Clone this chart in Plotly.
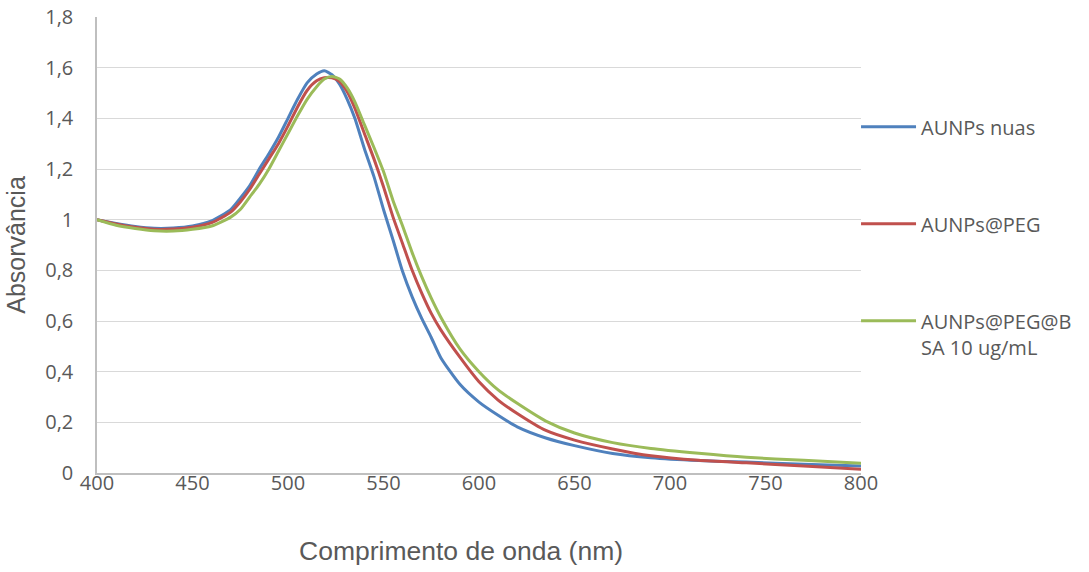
import plotly.graph_objects as go

wavelength = [400, 410, 420, 430, 440, 450, 460, 470, 475, 480, 485, 490, 495, 500,
              505, 510, 515, 519, 523, 527, 531, 535, 540, 545, 550, 555, 560, 565,
              570, 575, 580, 590, 600, 610, 620, 635, 650, 670, 690, 715, 740, 770, 800]

aunps_nuas = [1.00, 0.985, 0.973, 0.966, 0.967, 0.975, 0.995, 1.04, 1.085, 1.135, 1.20,
              1.26, 1.325, 1.40, 1.475, 1.54, 1.575, 1.588, 1.572, 1.535, 1.475, 1.40,
              1.28, 1.17, 1.04, 0.92, 0.795, 0.695, 0.61, 0.535, 0.455, 0.35, 0.28,
              0.228, 0.182, 0.138, 0.108, 0.077, 0.060, 0.049, 0.043, 0.035, 0.028]

aunps_peg = [1.00, 0.983, 0.970, 0.962, 0.963, 0.970, 0.988, 1.03, 1.07, 1.12, 1.18,
             1.24, 1.30, 1.37, 1.445, 1.51, 1.548, 1.560, 1.560, 1.545, 1.505, 1.44,
             1.34, 1.24, 1.13, 1.01, 0.905, 0.80, 0.71, 0.63, 0.565, 0.457, 0.36,
             0.288, 0.235, 0.168, 0.13, 0.095, 0.068, 0.050, 0.040, 0.028, 0.015]

aunps_peg_bsa = [1.00, 0.978, 0.965, 0.956, 0.955, 0.962, 0.975, 1.01, 1.04, 1.09, 1.14,
                 1.20, 1.27, 1.34, 1.41, 1.475, 1.525, 1.555, 1.565, 1.555, 1.52, 1.465,
                 1.375, 1.285, 1.19, 1.075, 0.975, 0.87, 0.775, 0.69, 0.615, 0.49, 0.40,
                 0.328, 0.275, 0.205, 0.158, 0.12, 0.097, 0.078, 0.062, 0.050, 0.038]

series_names = ["AUNPs nuas", "AUNPs@PEG", "AUNPs@PEG@B<br>SA 10 ug/mL"]
series_values = [aunps_nuas, aunps_peg, aunps_peg_bsa]
series_colors = ["#4F81BD", "#C0504D", "#9BBB59"]

y_ticks = [0, 0.2, 0.4, 0.6, 0.8, 1.0, 1.2, 1.4, 1.6, 1.8]
y_ticklabels = ["0", "0,2", "0,4", "0,6", "0,8", "1", "1,2", "1,4", "1,6", "1,8"]
x_ticks = [400, 450, 500, 550, 600, 650, 700, 750, 800]

fig = go.Figure()
for i, (name, vals, col) in enumerate(zip(series_names, series_values, series_colors)):
    fig.add_trace(go.Scatter(
        x=wavelength, y=vals, name=name, mode="lines",
        line=dict(color=col, width=3, shape="spline", smoothing=0.6),
        legendgroup=f"g{i}",
    ))

tick_font = dict(family="Open Sans", size=20, color="#595959")
title_font = dict(family="Liberation Sans, Arial", size=25, color="#595959")

fig.update_layout(
    width=1089, height=572,
    margin=dict(l=97, r=228, t=17, b=99, autoexpand=False),
    paper_bgcolor="white", plot_bgcolor="white",
    showlegend=True,
    legend=dict(
        x=0.9935, xanchor="left", y=0.802, yanchor="top",
        font=dict(family="Open Sans", size=20, color="#595959"),
        tracegroupgap=68, itemwidth=55, valign="top",
        bgcolor="rgba(0,0,0,0)",
    ),
    xaxis=dict(
        range=[400, 800], tickvals=x_ticks, ticktext=[str(v) for v in x_ticks],
        showgrid=False, zeroline=False,
        showline=True, linecolor="#BFBFBF", linewidth=1.5,
        ticks="", tickfont=tick_font, ticklabelstandoff=-9,
        automargin=False,
    ),
    yaxis=dict(
        range=[0, 1.8], tickvals=y_ticks, ticktext=y_ticklabels,
        showgrid=True, gridcolor="#D9D9D9", gridwidth=1.3, zeroline=False,
        showline=True, linecolor="#BFBFBF", linewidth=1.5,
        ticks="", tickfont=tick_font, ticklabelstandoff=18,
        title=dict(text="Absorvância", font=title_font, standoff=12),
        automargin=False,
    ),
    annotations=[dict(
        text="Comprimento de onda (nm)", xref="paper", yref="paper",
        x=(461 - 97) / 764, y=-(551 - 473) / 456, xanchor="center", yanchor="middle",
        showarrow=False, font=dict(family="Liberation Sans, Arial", size=26.5, color="#595959"),
    )],
)

fig.write_html("out.html")
